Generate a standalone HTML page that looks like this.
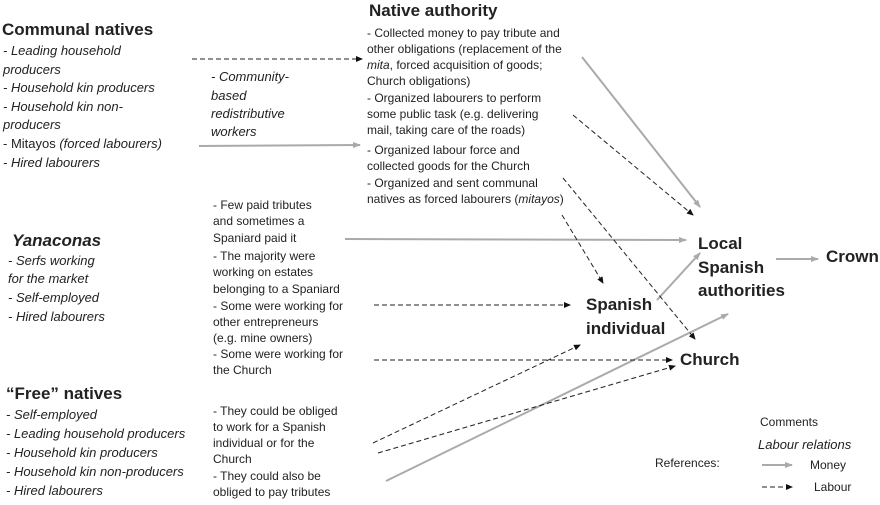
<!DOCTYPE html>
<html><head><meta charset="utf-8"><style>
html,body{margin:0;padding:0;background:#fff;}
svg text{font-family:"Liberation Sans",sans-serif;fill:#222;}
.t{font-size:17px;font-weight:bold;}
.i{font-style:italic;font-size:13px;}
.s{font-size:12px;}
.b{font-size:17px;font-weight:bold;}
</style></head><body>
<svg width="880" height="500" viewBox="0 0 880 500" xmlns="http://www.w3.org/2000/svg">
<defs>
<marker id="g" markerWidth="8" markerHeight="6" refX="7" refY="3" orient="auto" markerUnits="userSpaceOnUse"><path d="M0,0 L8,3 L0,6 z" fill="#aaa"/></marker>
<marker id="k" markerWidth="7" markerHeight="6" refX="6" refY="3" orient="auto" markerUnits="userSpaceOnUse"><path d="M0,0 L7,3 L0,6 z" fill="#111"/></marker>
</defs>
<g stroke="#aaa" stroke-width="2" fill="none" marker-end="url(#g)">
<line x1="199" y1="146" x2="360" y2="145"/>
<line x1="582" y1="57" x2="700" y2="207"/>
<line x1="345" y1="239" x2="686" y2="240"/>
<line x1="657" y1="300" x2="700" y2="253"/>
<line x1="776" y1="259" x2="818" y2="259"/>
<line x1="386" y1="481" x2="728" y2="314"/>
<line x1="762" y1="465" x2="792" y2="465"/>
</g>
<g stroke="#222" stroke-width="1" stroke-dasharray="5,3" fill="none" marker-end="url(#k)">
<line x1="192" y1="59" x2="362" y2="59"/>
<line x1="573" y1="115" x2="693" y2="215"/>
<line x1="563" y1="178" x2="695" y2="339"/>
<line x1="562" y1="215" x2="603" y2="283"/>
<line x1="374" y1="305" x2="570" y2="305"/>
<line x1="374" y1="360" x2="672" y2="360"/>
<line x1="373" y1="443" x2="580" y2="345"/>
<line x1="378" y1="453" x2="675" y2="366"/>
<line x1="762" y1="487" x2="792" y2="487"/>
</g>

<text class="t" x="2" y="35">Communal natives</text>
<g class="i">
<text x="3" y="55">- Leading household</text>
<text x="3" y="74">producers</text>
<text x="3" y="92">- Household kin producers</text>
<text x="3" y="111">- Household kin non-</text>
<text x="3" y="129">producers</text>
<text x="3" y="148"><tspan font-style="normal">- Mitayos </tspan>(forced labourers)</text>
<text x="3" y="167">- Hired labourers</text>
</g>
<g class="i">
<text x="211" y="81">- Community-</text>
<text x="211" y="100">based</text>
<text x="211" y="118">redistributive</text>
<text x="211" y="136">workers</text>
</g>

<text class="t" x="369" y="16">Native authority</text>
<g class="s">
<text x="367" y="37">- Collected money to pay tribute and</text>
<text x="367" y="53">other obligations (replacement of the</text>
<text x="367" y="69"><tspan font-style="italic">mita</tspan>, forced acquisition of goods;</text>
<text x="367" y="85">Church obligations)</text>
<text x="367" y="102">- Organized labourers to perform</text>
<text x="367" y="118">some public task (e.g. delivering</text>
<text x="367" y="134">mail, taking care of the roads)</text>
<text x="367" y="154">- Organized labour force and</text>
<text x="367" y="170">collected goods for the Church</text>
<text x="367" y="187">- Organized and sent communal</text>
<text x="367" y="203">natives as forced labourers (<tspan font-style="italic">mitayos</tspan>)</text>
</g>

<text class="t" x="12" y="246" font-style="italic">Yanaconas</text>
<g class="i">
<text x="8" y="265">- Serfs working</text>
<text x="8" y="283">for the market</text>
<text x="8" y="302">- Self-employed</text>
<text x="8" y="321">- Hired labourers</text>
</g>
<g class="s">
<text x="213" y="209">- Few paid tributes</text>
<text x="213" y="225">and sometimes a</text>
<text x="213" y="242">Spaniard paid it</text>
<text x="213" y="260">- The majority were</text>
<text x="213" y="276">working on estates</text>
<text x="213" y="293">belonging to a Spaniard</text>
<text x="213" y="310">- Some were working for</text>
<text x="213" y="326">other entrepreneurs</text>
<text x="213" y="342">(e.g. mine owners)</text>
<text x="213" y="358">- Some were working for</text>
<text x="213" y="374">the Church</text>
</g>

<text class="t" x="6" y="399">“Free” natives</text>
<g class="i">
<text x="6" y="419">- Self-employed</text>
<text x="6" y="438">- Leading household producers</text>
<text x="6" y="457">- Household kin producers</text>
<text x="6" y="476">- Household kin non-producers</text>
<text x="6" y="495">- Hired labourers</text>
</g>
<g class="s">
<text x="213" y="415">- They could be obliged</text>
<text x="213" y="431">to work for a Spanish</text>
<text x="213" y="447">individual or for the</text>
<text x="213" y="463">Church</text>
<text x="213" y="480">- They could also be</text>
<text x="213" y="496">obliged to pay tributes</text>
</g>

<g class="b">
<text x="698" y="249">Local</text>
<text x="698" y="273">Spanish</text>
<text x="698" y="296">authorities</text>
<text x="826" y="262">Crown</text>
<text x="586" y="310">Spanish</text>
<text x="586" y="334">individual</text>
<text x="680" y="365">Church</text>
</g>

<g class="s">
<text x="760" y="426">Comments</text>
<text x="758" y="449" font-style="italic" font-size="13">Labour relations</text>
<text x="655" y="467">References:</text>
<text x="810" y="469">Money</text>
<text x="814" y="491">Labour</text>
</g>
</svg>
</body></html>
